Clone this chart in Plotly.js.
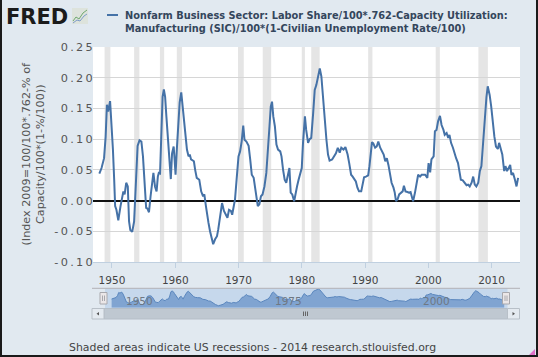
<!DOCTYPE html>
<html>
<head>
<meta charset="utf-8">
<script src="https://cdn.plot.ly/plotly-3.0.1.min.js"></script>
<style>
  html, body { margin:0; padding:0; background:#e1e9f0; }
  #wrap { position:relative; width:538px; height:357px; overflow:hidden; }
  #chart { position:absolute; left:0; top:0; width:538px; height:357px; }
  #frame { position:absolute; left:0; top:0; width:538px; height:357px; box-sizing:border-box;
           border:2px solid #1a1a1a; border-top:none; pointer-events:none; }
  .ytick text { letter-spacing: 2.3px; }
</style>
</head>
<body>
<div id="wrap"><div id="chart"></div><div id="frame"></div></div>
<script>
// ---------------- data ----------------
const years = [
 1948.0,1948.35,1948.75,1949.0,1949.2,1949.4,1949.7,1949.95,1950.15,1950.35,1950.5,1950.7,1951.0,1951.35,1951.6,1951.8,
 1952.0,1952.25,1952.5,1952.7,1952.9,1953.2,1953.5,1953.9,1954.05,1954.35,1954.65,1954.9,1955.15,1955.4,1955.6,1955.85,
 1956.1,1956.35,1956.55,1956.8,1957.05,1957.25,1957.4,1957.6,1957.8,1958.0,1958.2,1958.4,1958.6,1958.9,1959.1,1959.3,
 1959.5,1959.75,1959.9,1960.05,1960.25,1960.45,1960.7,1960.95,1961.25,1961.55,1961.85,1962.1,1962.3,1962.5,1962.95,1963.15,
 1963.4,1963.8,1964.1,1964.4,1964.6,1964.85,1965.05,1965.25,1965.5,1965.8,1966.0,1966.3,1966.6,1966.8,1967.1,1967.4,
 1967.7,1968.0,1968.25,1968.5,1968.8,1969.0,1969.2,1969.45,1969.7,1970.0,1970.25,1970.5,1970.75,1970.95,1971.25,1971.6,
 1971.85,1972.1,1972.4,1972.6,1972.9,1973.05,1973.3,1973.55,1973.8,1974.1,1974.4,1974.7,1974.9,1975.1,1975.3,1975.5,
 1975.75,1976.0,1976.25,1976.6,1976.8,1977.05,1977.3,1977.55,1977.85,1978.05,1978.25,1978.5,1978.8,1979.0,1979.25,1979.5,
 1979.8,1980.0,1980.2,1980.5,1980.7,1981.0,1981.25,1981.5,1981.8,1982.05,1982.3,1982.55,1982.85,1983.1,1983.4,1983.6,
 1983.9,1984.15,1984.4,1984.8,1985.1,1985.4,1985.7,1986.0,1986.25,1986.6,1986.9,1987.25,1987.5,1987.8,1988.05,1988.3,
 1988.55,1988.8,1989.05,1989.4,1989.6,1989.85,1990.15,1990.5,1990.7,1990.9,1991.1,1991.3,1991.6,1991.85,1992.1,1992.4,
 1992.7,1992.95,1993.2,1993.45,1993.7,1993.95,1994.2,1994.5,1994.7,1994.9,1995.15,1995.4,1995.7,1995.95,1996.15,1996.4,
 1996.7,1996.95,1997.2,1997.4,1997.6,1997.9,1998.15,1998.4,1998.7,1998.95,1999.2,1999.5,1999.85,2000.05,2000.3,2000.5,
 2000.85,2001.05,2001.3,2001.55,2001.85,2002.1,2002.4,2002.6,2002.9,2003.15,2003.35,2003.6,2003.9,2004.15,2004.4,2004.7,
 2004.9,2005.15,2005.45,2005.8,2006.05,2006.3,2006.55,2006.85,2007.1,2007.35,2007.6,2007.9,2008.15,2008.4,2008.7,2008.95,
 2009.2,2009.4,2009.7,2009.95,2010.2,2010.45,2010.7,2011.0,2011.2,2011.45,2011.7,2012.0,2012.2,2012.45,2012.7,2012.95,
 2013.15,2013.4,2013.7,2013.95,2014.2
];
const values = [
 0.044,0.053,0.069,0.104,0.156,0.145,0.162,0.126,0.083,0.034,-0.009,-0.015,-0.032,-0.009,0.007,0.015,
 0.010,0.029,0.023,-0.034,-0.048,-0.051,-0.034,0.045,0.089,0.098,0.096,0.072,0.023,-0.012,-0.013,-0.019,
 0.007,0.029,0.045,0.023,0.015,0.039,0.045,0.044,0.094,0.169,0.181,0.169,0.137,0.099,0.072,0.035,
 0.077,0.088,0.067,0.042,0.083,0.120,0.160,0.176,0.145,0.104,0.083,0.072,0.075,0.067,0.064,0.050,
 0.037,0.034,0.015,0.007,0.010,-0.009,-0.028,-0.036,-0.050,-0.063,-0.071,-0.063,-0.058,-0.047,-0.025,-0.004,
 -0.017,-0.023,-0.028,-0.015,-0.017,-0.023,-0.009,0.002,0.034,0.072,0.080,0.096,0.122,0.099,0.096,0.089,
 0.067,0.042,0.037,0.023,0.007,-0.009,-0.006,0.007,0.010,0.023,0.045,0.083,0.121,0.153,0.161,0.137,
 0.121,0.091,0.083,0.080,0.072,0.050,0.034,0.029,0.042,0.053,0.013,0.010,-0.001,0.013,0.023,0.034,
 0.045,0.053,0.094,0.137,0.115,0.094,0.100,0.102,0.142,0.180,0.188,0.202,0.215,0.202,0.164,0.126,
 0.099,0.075,0.065,0.067,0.072,0.077,0.086,0.078,0.086,0.083,0.087,0.075,0.061,0.042,0.039,0.034,
 0.031,0.021,0.015,0.015,0.023,0.038,0.039,0.041,0.056,0.077,0.095,0.093,0.086,0.088,0.096,0.086,
 0.080,0.075,0.064,0.069,0.058,0.045,0.029,0.021,0.013,-0.001,0.002,0.010,0.013,0.015,0.024,0.015,
 0.014,0.013,0.014,0.007,-0.001,0.013,0.029,0.042,0.039,0.042,0.042,0.042,0.037,0.061,0.046,0.067,
 0.072,0.113,0.115,0.129,0.138,0.123,0.115,0.107,0.110,0.102,0.107,0.094,0.086,0.075,0.069,0.061,
 0.045,0.034,0.033,0.029,0.025,0.026,0.023,0.029,0.039,0.026,0.023,0.029,0.048,0.056,0.099,0.142,
 0.169,0.186,0.172,0.153,0.126,0.104,0.088,0.084,0.094,0.083,0.075,0.048,0.056,0.048,0.053,0.058,
 0.042,0.045,0.034,0.023,0.037
];
const recStart = [1948.83,1953.5,1957.58,1960.25,1969.92,1973.83,1980.0,1981.5,1990.5,2001.17,2007.92];
const recEnd   = [1949.75,1954.33,1958.25,1961.08,1970.83,1975.17,1980.5,1982.83,1991.17,2001.83,2009.42];
const xTickVals = [1950,1960,1970,1980,1990,2000,2010];
const xTickText = ['1950','1960','1970','1980','1990','2000','2010'];
const yTickVals = [-0.10,-0.05,0.00,0.05,0.10,0.15,0.20,0.25];
const yTickText = ['-0.10','-0.05','0.00','0.05','0.10','0.15','0.20','0.25'];
const navTickVals = [1950,1975,2000];
const navTickText = ['1950','1975','2000'];
const seriesLines = ['Nonfarm Business Sector: Labor Share/100*.762-Capacity Utilization:',
                     'Manufacturing (SIC)/100*(1-Civilian Unemployment Rate/100)'];
const yTitleLines = ['(Index 2009=100/100*.762-% of', 'Capacity/100*(1-%/100))'];
const footerText = 'Shaded areas indicate US recessions - 2014 research.stlouisfed.org';
const logoText = 'FRED';

// ---------------- layout helpers ----------------
const W = 538, H = 357, ML = 93, MR = 18, MT = 47, MB = 38;
const PW = W - ML - MR, PH = H - MT - MB;
const px = p => (p - ML) / PW;
const py = p => (H - MB - p) / PH;
const yMin = -0.10, yMax = 0.25;
const navMin = -0.105, navMax = 0.227;
const FONT = 'DejaVu Sans, Verdana, sans-serif';
const BLUE = '#4572a7';

const traces = [
  { x: years, y: values, type: 'scatter', mode: 'lines', xaxis: 'x', yaxis: 'y',
    line: { color: BLUE, width: 2 }, hoverinfo: 'skip', showlegend: false },
  { x: years, y: years.map(() => navMin), type: 'scatter', mode: 'lines', xaxis: 'x2', yaxis: 'y2',
    line: { width: 0, color: 'rgba(0,0,0,0)' }, hoverinfo: 'skip', showlegend: false },
  { x: years, y: values, type: 'scatter', mode: 'lines', xaxis: 'x2', yaxis: 'y2', fill: 'tonexty',
    fillcolor: '#80a4d1', line: { color: '#5a86bd', width: 1 }, hoverinfo: 'skip', showlegend: false }
];

const shapes = [];
shapes.push({ type: 'rect', xref: 'paper', yref: 'paper', x0: 0, x1: 1, y0: py(262), y1: 1,
  fillcolor: '#ffffff', line: { width: 0 }, layer: 'below' });
recStart.forEach((s, i) => shapes.push({ type: 'rect', xref: 'x', yref: 'y', x0: s, x1: recEnd[i],
  y0: yMin, y1: yMax, fillcolor: '#e5e5e5', line: { width: 0 }, layer: 'below' }));
shapes.push({ type: 'rect', xref: 'paper', yref: 'paper', x0: px(105), x1: px(507.5), y0: py(308), y1: py(288.5),
  fillcolor: '#c6d8ec', line: { width: 0 }, layer: 'below' });
shapes.push({ type: 'line', xref: 'paper', yref: 'paper', x0: px(92), x1: px(520), y0: py(288.3), y1: py(288.3),
  line: { color: '#b2b1b6', width: 1 }, layer: 'above' });
[103.5, 506].forEach(c => {
  shapes.push({ type: 'rect', xref: 'paper', yref: 'paper', x0: px(c - 3.5), x1: px(c + 3.5), y0: py(304), y1: py(292.5),
    fillcolor: '#ebe7e8', line: { color: '#a8a8ad', width: 1 }, layer: 'above' });
  [-1, 1].forEach(d => shapes.push({ type: 'line', xref: 'paper', yref: 'paper', x0: px(c + d), x1: px(c + d),
    y0: py(301), y1: py(295.5), line: { color: '#a8a8ad', width: 1 }, layer: 'above' }));
});
shapes.push({ type: 'rect', xref: 'paper', yref: 'paper', x0: px(104), x1: px(507.5), y0: py(319), y1: py(308.5),
  fillcolor: '#bfc8d1', line: { color: '#b5bec7', width: 1 }, layer: 'above' });
[[92, 104], [507.5, 519.5]].forEach(b => shapes.push({ type: 'rect', xref: 'paper', yref: 'paper',
  x0: px(b[0]), x1: px(b[1]), y0: py(319), y1: py(308.5), fillcolor: '#e4eaf0', line: { color: '#b8c0c8', width: 1 }, layer: 'above' }));
shapes.push({ type: 'path', xref: 'paper', yref: 'paper', layer: 'above',
  path: `M ${px(96.5)} ${py(313.7)} L ${px(99)} ${py(312)} L ${px(99)} ${py(315.4)} Z`, fillcolor: '#555', line: { width: 0 } });
shapes.push({ type: 'path', xref: 'paper', yref: 'paper', layer: 'above',
  path: `M ${px(515)} ${py(313.7)} L ${px(512.5)} ${py(312)} L ${px(512.5)} ${py(315.4)} Z`, fillcolor: '#555', line: { width: 0 } });
[-2, 0, 2].forEach(d => shapes.push({ type: 'line', xref: 'paper', yref: 'paper', x0: px(305.5 + d), x1: px(305.5 + d),
  y0: py(316), y1: py(311.5), line: { color: '#666', width: 1 }, layer: 'above' }));
shapes.push({ type: 'line', xref: 'paper', yref: 'paper', x0: px(107), x1: px(118), y0: py(15), y1: py(15),
  line: { color: BLUE, width: 2 }, layer: 'above' });
shapes.push({ type: 'rect', xref: 'paper', yref: 'paper', x0: px(72), x1: px(88), y0: py(24), y1: py(8),
  fillcolor: '#dde3dc', line: { width: 0 }, layer: 'above' });
shapes.push({ type: 'path', xref: 'paper', yref: 'paper', layer: 'above', line: { color: '#6fa86f', width: 1 },
  path: `M ${px(73)} ${py(21)} L ${px(76)} ${py(17)} L ${px(79)} ${py(19)} L ${px(83)} ${py(13)} L ${px(87)} ${py(10)}` });
shapes.push({ type: 'path', xref: 'paper', yref: 'paper', layer: 'above', line: { color: '#7d9cc8', width: 1 },
  path: `M ${px(73)} ${py(23)} L ${px(77)} ${py(20)} L ${px(80)} ${py(21)} L ${px(84)} ${py(16)} L ${px(87)} ${py(14)}` });
// resize grip
shapes.push({ type: 'path', xref: 'paper', yref: 'paper', layer: 'above', fillcolor: '#e070c8', line: { width: 0 },
  path: `M ${px(535)} ${py(349)} L ${px(535)} ${py(355)} L ${px(529)} ${py(355)} Z` });

const annotations = [
  { xref: 'paper', yref: 'paper', x: px(4), y: py(16.5), xanchor: 'left', yanchor: 'middle', showarrow: false,
    text: '<b>' + logoText + '</b>', font: { family: FONT, size: 21, color: '#1b1b1b' } },
  { xref: 'paper', yref: 'paper', x: px(123), y: py(21.5), xanchor: 'left', yanchor: 'middle', showarrow: false, align: 'left',
    text: seriesLines.map(s => '<b>' + s + '</b>').join('<br>'), font: { family: FONT, size: 9.8, color: '#34465c' } },
  { xref: 'paper', yref: 'paper', x: px(33.5), y: py(154), xanchor: 'center', yanchor: 'middle', showarrow: false,
    textangle: -90, text: yTitleLines.join('<br>'), font: { family: FONT, size: 11.2, color: '#555' } },
  { xref: 'paper', yref: 'paper', x: px(252), y: py(347), xanchor: 'center', yanchor: 'middle', showarrow: false,
    text: footerText, font: { family: FONT, size: 10.9, color: '#444' } }
];
navTickVals.forEach((v, i) => annotations.push({ xref: 'x2', yref: 'paper', x: v, xanchor: 'left', xshift: 1,
  y: py(301), yanchor: 'middle', showarrow: false, text: navTickText[i], font: { family: FONT, size: 10.5, color: '#6f7883' } }));

const layout = {
  width: W, height: H, margin: { l: ML, r: MR, t: MT, b: MB, pad: 0 },
  paper_bgcolor: '#e1e9f0', plot_bgcolor: 'rgba(0,0,0,0)', showlegend: false,
  xaxis: { domain: [0, 1], anchor: 'y', range: [1947.0, 2014.5], tickmode: 'array', tickvals: xTickVals, ticktext: xTickText,
    showgrid: false, zeroline: false, showline: true, linecolor: '#c0d0e0', linewidth: 1,
    ticks: 'outside', ticklen: 5, tickcolor: '#c0d0e0', ticklabelstandoff: 3,
    tickfont: { family: FONT, size: 10.5, color: '#444' }, fixedrange: true },
  yaxis: { domain: [py(262), 1], anchor: 'x', range: [yMin, yMax], tickmode: 'array', tickvals: yTickVals, ticktext: yTickText,
    showgrid: true, gridcolor: '#d6d6d6', gridwidth: 1, zeroline: true, zerolinecolor: '#111', zerolinewidth: 2,
    showline: false, ticks: '', ticklabelstandoff: -3, tickfont: { family: FONT, size: 11.3, color: '#555' }, fixedrange: true },
  xaxis2: { domain: [0, 1], anchor: 'y2', range: [1944.86, 2016.86], visible: false, fixedrange: true },
  yaxis2: { domain: [py(307.7), py(288.3)], anchor: 'x2', range: [navMin, navMax], visible: false, fixedrange: true },
  shapes: shapes, annotations: annotations
};

Plotly.newPlot('chart', traces, layout, { displayModeBar: false, staticPlot: true });
</script>
</body>
</html>
